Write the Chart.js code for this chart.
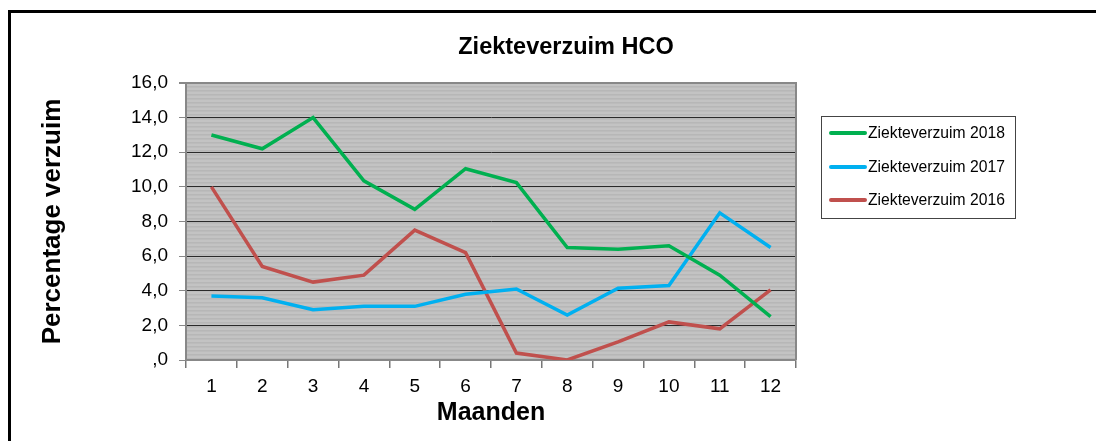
<!DOCTYPE html>
<html>
<head>
<meta charset="utf-8">
<script src="https://cdn.jsdelivr.net/npm/chart.js@4/dist/chart.umd.min.js"></script>
<style>
  html, body { margin: 0; padding: 0; background: #fff; }
  #wrap { position: relative; width: 1096px; height: 441px; overflow: hidden; }
</style>
</head>
<body>
<div id="wrap"><canvas id="c" width="1096" height="441"></canvas></div>
<script>
// ---- data ----
const months = ['1','2','3','4','5','6','7','8','9','10','11','12'];
const verzuim2018 = [13.0, 12.2, 14.0, 10.35, 8.7, 11.05, 10.25, 6.5, 6.4, 6.6, 4.9, 2.5];
const verzuim2017 = [3.7, 3.6, 2.9, 3.1, 3.1, 3.8, 4.1, 2.6, 4.15, 4.3, 8.5, 6.5];
const verzuim2016 = [10.0, 5.4, 4.5, 4.9, 7.5, 6.2, 0.4, 0.0, 1.05, 2.2, 1.8, 4.05];
const seriesLabels = ['Ziekteverzuim 2018', 'Ziekteverzuim 2017', 'Ziekteverzuim 2016'];
const yTickLabels = [',0', '2,0', '4,0', '6,0', '8,0', '10,0', '12,0', '14,0', '16,0'];
const chartTitle = 'Ziekteverzuim HCO';
const xTitle = 'Maanden';
const yTitle = 'Percentage verzuim';

const colors = ['#00b050', '#00b0f0', '#c0504d'];
const FONT = "'Liberation Sans', Arial, sans-serif";

function makePattern(ctx) {
  const p = document.createElement('canvas');
  p.width = 4; p.height = 4;
  const pc = p.getContext('2d');
  const rows = ['#c3c3c3', '#c3c3c3', '#b7b7b7', '#bcbcbc'];
  rows.forEach((c, i) => { pc.fillStyle = c; pc.fillRect(0, i, 4, 1); });
  return ctx.createPattern(p, 'repeat');
}

const decor = {
  id: 'decor',
  beforeDraw(chart) {
    const ctx = chart.ctx;
    const a = chart.chartArea;
    ctx.save();
    ctx.fillStyle = '#fff';
    ctx.fillRect(0, 0, chart.width, chart.height);
    // outer frame (top + left)
    ctx.fillStyle = '#000';
    ctx.fillRect(8, 10, chart.width, 3);
    ctx.fillRect(8, 10, 3, chart.height);
    // plot background
    ctx.fillStyle = makePattern(ctx);
    ctx.fillRect(a.left, a.top, a.right - a.left, a.bottom - a.top);
    // chart title
    ctx.fillStyle = '#000';
    ctx.font = 'bold 23.5px ' + FONT;
    ctx.textAlign = 'center';
    ctx.textBaseline = 'middle';
    ctx.fillText(chartTitle, 566, 48);
    ctx.restore();
  },
  beforeDatasetsDraw(chart) {
    const ctx = chart.ctx;
    const a = chart.chartArea;
    ctx.save();
    ctx.strokeStyle = '#888';
    ctx.lineWidth = 2;
    ctx.beginPath();
    ctx.moveTo(a.left, a.top);
    ctx.lineTo(a.right, a.top);
    ctx.lineTo(a.right, a.bottom);
    ctx.stroke();
    ctx.restore();
  },
  afterDraw(chart) {
    const ctx = chart.ctx;
    ctx.save();
    // legend box
    const bx = 821, by = 116, bw = 194, bh = 102;
    ctx.fillStyle = '#fff';
    ctx.fillRect(bx, by, bw, bh);
    ctx.strokeStyle = '#444';
    ctx.lineWidth = 1;
    ctx.strokeRect(bx + 0.5, by + 0.5, bw, bh);
    const ys = [133, 167, 200];
    chart.data.datasets.forEach((ds, i) => {
      ctx.strokeStyle = ds.borderColor;
      ctx.lineWidth = 4;
      ctx.lineCap = 'round';
      ctx.beginPath();
      ctx.moveTo(831, ys[i]);
      ctx.lineTo(865, ys[i]);
      ctx.stroke();
      ctx.fillStyle = '#000';
      ctx.font = '15.7px ' + FONT;
      ctx.textBaseline = 'middle';
      ctx.textAlign = 'left';
      ctx.fillText(ds.label, 868, ys[i] + 1);
    });
    ctx.restore();
  }
};

new Chart(document.getElementById('c'), {
  type: 'line',
  data: {
    labels: months,
    datasets: [
      { label: seriesLabels[0], data: verzuim2018, borderColor: colors[0], backgroundColor: colors[0] },
      { label: seriesLabels[1], data: verzuim2017, borderColor: colors[1], backgroundColor: colors[1] },
      { label: seriesLabels[2], data: verzuim2016, borderColor: colors[2], backgroundColor: colors[2] }
    ]
  },
  options: {
    responsive: false,
    animation: false,
    devicePixelRatio: 1,
    layout: { padding: { left: 36, right: 300, top: 83, bottom: 0 } },
    elements: {
      line: { borderWidth: 3.5, tension: 0, borderCapStyle: 'butt', borderJoinStyle: 'miter' },
      point: { radius: 0, hoverRadius: 0 }
    },
    plugins: {
      legend: { display: false },
      tooltip: { enabled: false },
      title: { display: false }
    },
    scales: {
      x: {
        offset: true,
        afterFit(s) { s.height = 81; },
        grid: { display: true, offset: true, drawOnChartArea: false, tickLength: 8, tickColor: '#777', lineWidth: 1.5 },
        border: { display: true, color: '#888', width: 2 },
        ticks: { color: '#000', padding: 7, font: { family: FONT, size: 19 }, maxRotation: 0 },
        title: {
          display: true, text: xTitle, color: '#000',
          font: { family: FONT, size: 25, weight: 'bold' },
          padding: { top: 0, bottom: 13 }
        }
      },
      y: {
        min: 0, max: 16,
        afterFit(s) { s.width = 150; },
        ticks: {
          stepSize: 2, color: '#000', padding: 11,
          font: { family: FONT, size: 19 },
          callback: (v) => yTickLabels[Math.round(v / 2)]
        },
        grid: {
          color: (c) => (c.tick && c.tick.value === 16) ? '#888' : '#2a2a2a',
          lineWidth: (c) => (c.tick && c.tick.value === 16) ? 2 : 1,
          tickColor: '#888', tickLength: 7
        },
        border: { display: true, color: '#888', width: 2 },
        title: {
          display: true, text: yTitle, color: '#000',
          font: { family: FONT, size: 26, weight: 'bold' },
          padding: { top: 1, bottom: 0 }
        }
      }
    }
  },
  plugins: [decor]
});
</script>
</body>
</html>
